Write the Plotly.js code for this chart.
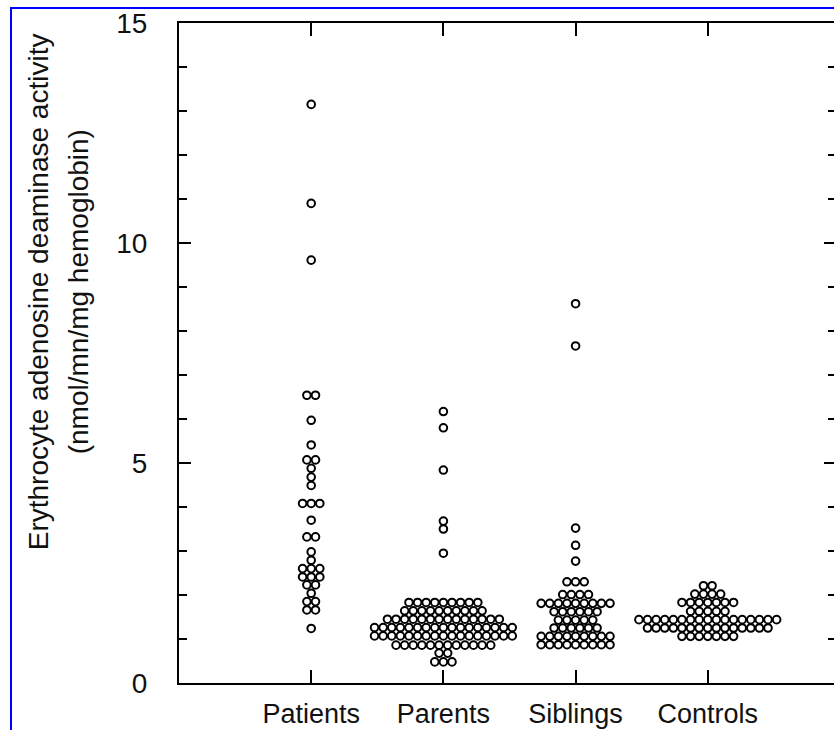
<!DOCTYPE html>
<html>
<head>
<meta charset="utf-8">
<script src="https://cdn.plot.ly/plotly-3.0.1.min.js"></script>
<style>
html, body { margin: 0; padding: 0; overflow: hidden; background: #fff; }
#frame { position: absolute; left: 10px; top: 7px; width: 2000px; height: 2000px;
  border-left: 2px solid #0000ff; border-top: 2px solid #0000ff; pointer-events: none; z-index: 10; }
</style>
</head>
<body>
<div id="chart"></div>
<div id="frame"></div>
<script>
// Categories (x axis)
const categories = ['Patients', 'Parents', 'Siblings', 'Controls'];

// Each group: activity values of the dot rows (nmol/mn/mg hemoglobin) and number of dots in each row
const patientsValues = [13.15, 10.9, 9.61, 6.54, 5.97, 5.41, 5.07, 4.88, 4.68, 4.49, 4.08, 3.70, 3.32, 2.98, 2.79, 2.60, 2.41, 2.23, 2.04, 1.85, 1.66, 1.24];
const patientsCounts = [1, 1, 1, 2, 1, 1, 2, 1, 1, 1, 3, 1, 2, 1, 1, 3, 3, 2, 1, 2, 2, 1];

const parentsValues = [6.17, 5.80, 4.84, 3.68, 3.50, 2.95, 1.83, 1.64, 1.45, 1.26, 1.07, 0.86, 0.68, 0.48];
const parentsCounts = [1, 1, 1, 1, 1, 1, 9, 10, 14, 17, 17, 12, 2, 3];

const siblingsValues = [8.62, 7.66, 3.52, 3.13, 2.77, 2.30, 2.01, 1.81, 1.62, 1.43, 1.25, 1.06, 0.87];
const siblingsCounts = [1, 1, 1, 1, 1, 3, 4, 9, 6, 5, 6, 9, 9];

const controlsValues = [2.21, 2.02, 1.83, 1.63, 1.44, 1.25, 1.06];
const controlsCounts = [2, 4, 7, 5, 17, 15, 7];

const groups = [
  [patientsValues, patientsCounts],
  [parentsValues, parentsCounts],
  [siblingsValues, siblingsCounts],
  [controlsValues, controlsCounts]
];

// dot-plot layout: dots sharing a value are set side by side, centred on the category
const DX = 0.0651;
const xs = [], ys = [];
groups.forEach(function (g, gi) {
  const vals = g[0], cnts = g[1];
  vals.forEach(function (v, r) {
    const n = cnts[r];
    for (let i = 0; i < n; i++) {
      xs.push(gi + 1 + (i - (n - 1) / 2) * DX);
      ys.push(v);
    }
  });
});

const FONT = 'Liberation Sans, Arial, sans-serif';

const trace = {
  type: 'scatter', mode: 'markers', x: xs, y: ys, hoverinfo: 'skip',
  marker: { symbol: 'circle', size: 7.6, color: '#ffffff', line: { color: '#000000', width: 2 } },
  cliponaxis: false, showlegend: false
};

const layout = {
  width: 837, height: 730,
  margin: { l: 179, r: 1, t: 23, b: 47 },
  paper_bgcolor: '#ffffff', plot_bgcolor: '#ffffff',
  font: { family: FONT, size: 28, color: '#111111' },
  showlegend: false,
  xaxis: {
    range: [0, 4.97], tickvals: [1, 2, 3, 4], ticktext: categories,
    ticks: 'inside', ticklen: 13, tickwidth: 2, tickcolor: '#000',
    showline: true, linewidth: 2, linecolor: '#000', mirror: 'ticks',
    showgrid: false, zeroline: false, ticklabelstandoff: 6,
    tickfont: { family: FONT, size: 27, color: '#111' }
  },
  yaxis: {
    range: [0, 15], tickvals: [0, 5, 10, 15], ticktext: ['0', '5', '10', '15'],
    ticks: 'inside', ticklen: 12, tickwidth: 2, tickcolor: '#000',
    minor: { dtick: 1, ticks: 'inside', ticklen: 8, tickwidth: 1.6, tickcolor: '#000', showgrid: false },
    showline: true, linewidth: 2, linecolor: '#000', mirror: 'ticks',
    showgrid: false, zeroline: false, ticklabelstandoff: 24,
    tickfont: { family: FONT, size: 28, color: '#111' }
  },
  annotations: [
    { text: 'Erythrocyte adenosine deaminase activity', xref: 'paper', yref: 'paper',
      x: -0.2146, y: 0.592, xanchor: 'center', yanchor: 'middle', textangle: -90, showarrow: false,
      font: { family: FONT, size: 28, color: '#111' } },
    { text: '(nmol/mn/mg hemoglobin)', xref: 'paper', yref: 'paper',
      x: -0.1537, y: 0.592, xanchor: 'center', yanchor: 'middle', textangle: -90, showarrow: false,
      font: { family: FONT, size: 28, color: '#111' } }
  ]
};

Plotly.newPlot('chart', [trace], layout, { displayModeBar: false, staticPlot: true });
</script>
</body>
</html>
